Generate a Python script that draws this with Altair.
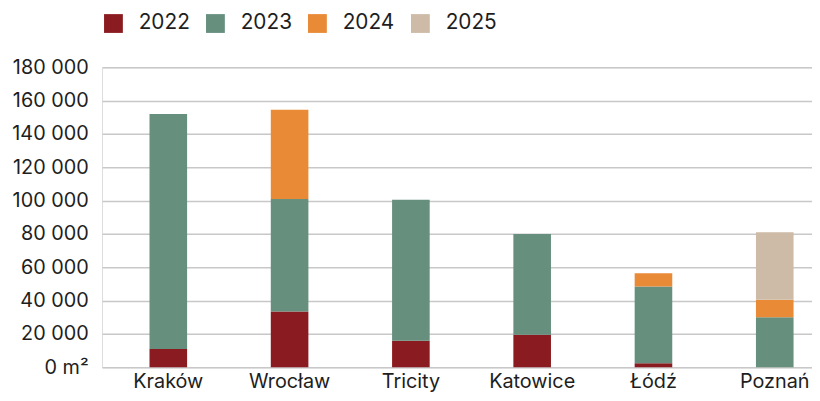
import altair as alt
import pandas as pd

cities = ["Kraków", "Wrocław", "Tricity", "Katowice", "Łódź", "Poznań"]
years = ["2022", "2023", "2024", "2025"]
v2022 = [11000, 33500, 16000, 19500, 2500, 0]
v2023 = [141000, 67500, 84500, 60500, 46000, 30000]
v2024 = [0, 53500, 0, 0, 8000, 10500]
v2025 = [0, 0, 0, 0, 0, 40500]
colors = ["#8a1c21", "#668f7e", "#e98a36", "#cebba7"]
y_ticks = [0, 20000, 40000, 60000, 80000, 100000, 120000, 140000, 160000, 180000]

rows = []
for yi, (yr, vals) in enumerate(zip(years, [v2022, v2023, v2024, v2025])):
    for c, v in zip(cities, vals):
        rows.append({"city": c, "year": yr, "order": yi, "value": v})
df = pd.DataFrame(rows)

FONT = "Inter"
TXT = "#1e1e1e"

chart = (
    alt.Chart(df)
    .mark_bar()
    .encode(
        x=alt.X(
            "city:N",
            sort=cities,
            title=None,
            scale=alt.Scale(paddingInner=0.69, paddingOuter=0.2716, align=0.72),
            axis=alt.Axis(
                labelAngle=0,
                ticks=False,
                domain=False,
                labelPadding=4,
                labelFontSize=20,
                labelFont=FONT,
                labelColor=TXT,
                grid=False,
            ),
        ),
        y=alt.Y(
            "value:Q",
            stack="zero",
            title=None,
            scale=alt.Scale(domain=[0, 180000], nice=False),
            axis=alt.Axis(
                values=y_ticks,
                ticks=False,
                domain=False,
                labelPadding=14,
                labelFontSize=20,
                labelFont=FONT,
                labelColor=TXT,
                labelExpr="datum.value == 0 ? '0 m²' : replace(format(datum.value, ','), /,/g, ' ')",
                grid=True,
                gridColor="#c8c8c8",
                gridWidth=1.5,
                minExtent=95,
                maxExtent=95,
            ),
        ),
        color=alt.Color(
            "year:N",
            sort=years,
            scale=alt.Scale(domain=years, range=colors),
            legend=alt.Legend(
                title=None,
                orient="none",
                direction="horizontal",
                legendX=1,
                legendY=-55,
                symbolType="square",
                symbolSize=361,
                symbolStrokeWidth=0,
                symbolOpacity=1,
                labelOffset=15,
                labelFontSize=21,
                labelFont=FONT,
                labelColor=TXT,
                columnPadding=15,
                padding=0,
            ),
        ),
        order=alt.Order("order:Q", sort="ascending"),
    )
    .properties(width=717, height=303, padding={"left": 0, "top": 3, "right": 0, "bottom": 0})
    .configure_view(stroke=None)
    .configure(background="white")
)

chart.save("out.html", embed_options={"renderer": "svg", "actions": False})
